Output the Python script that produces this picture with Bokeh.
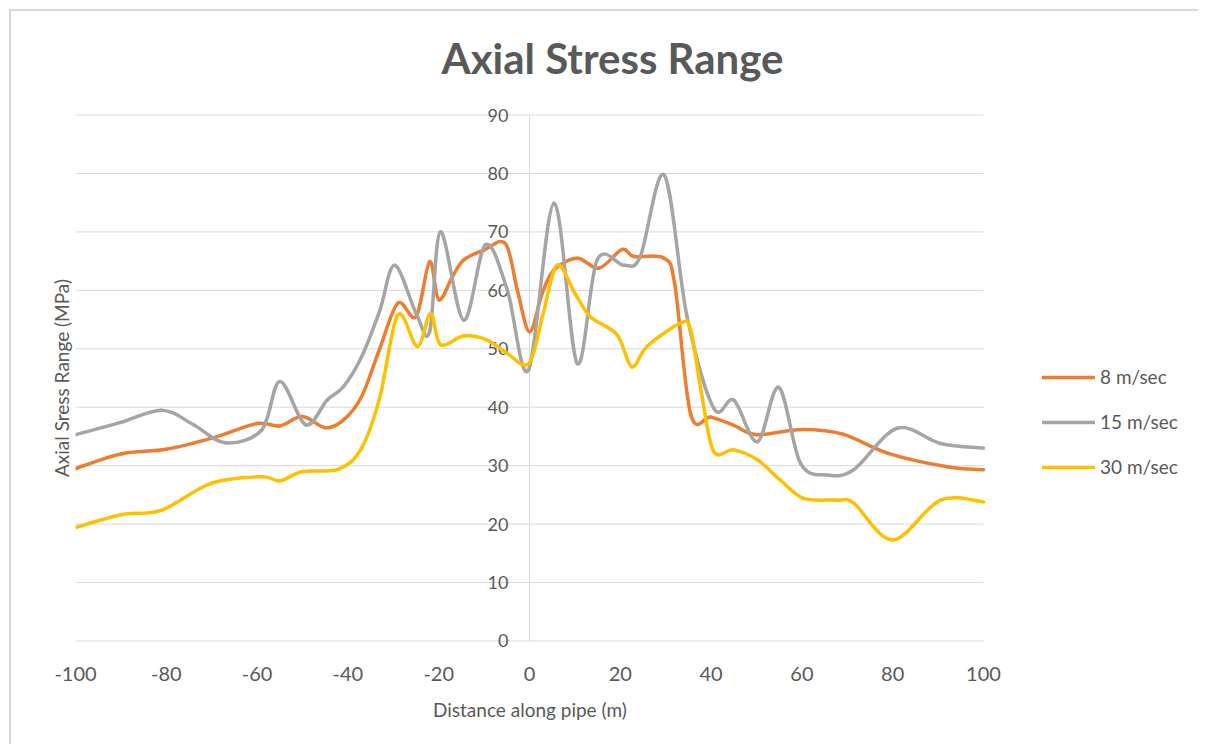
import numpy as np
from bokeh.plotting import figure
from bokeh.models import Range1d, FixedTicker, Legend, LegendItem, Title, ColumnDataSource
from bokeh.core.properties import value
from bokeh.embed import file_html
from bokeh.resources import INLINE

# ---------------- data ----------------
title_text = "Axial Stress Range"
x_label = "Distance  along pipe (m)"
y_label = "Axial Sress Range (MPa)"

x_ticks = [-100, -80, -60, -40, -20, 0, 20, 40, 60, 80, 100]
x_tick_labels = ["-100", "-80", "-60", "-40", "-20", "0", "20", "40", "60", "80", "100"]
y_ticks = [0, 10, 20, 30, 40, 50, 60, 70, 80, 90]
y_tick_labels = ["0", "10", "20", "30", "40", "50", "60", "70", "80", "90"]

series_names = ["8 m/sec", "15 m/sec", "30 m/sec"]

x_8 = [-100, -90, -80, -70, -60, -55, -50, -45, -41, -37, -33, -29, -25, -22, -20, -17,
       -14.5, -10, -5.3, -2.7, 0, 2.8, 5.4, 10.5, 15.3, 20.4, 23, 29.6, 32, 35.5, 40, 45,
       50, 60, 69, 79, 92, 100]
y_8 = [29.5, 32.0, 32.8, 34.7, 37.2, 36.8, 38.4, 36.5, 37.8, 41.8, 50.0, 57.8, 55.5, 64.9, 58.4, 62.3,
       65.2, 66.9, 68.0, 60.1, 52.9, 59.5, 63.5, 65.5, 63.8, 67.0, 65.8, 65.5, 61.0, 38.8, 38.3, 36.9,
       35.3, 36.2, 35.4, 32.1, 29.8, 29.3]

x_15 = [-100, -90, -81, -74, -67, -59, -55, -49.3, -44.6, -41, -37, -33, -29.7, -25, -22, -19.6,
        -14.5, -9.7, -4.9, -0.2, 5.4, 10.5, 14.9, 20.8, 24.4, 29.7, 34.7, 40.6, 45, 50.2,
        54.9, 59.7, 65.6, 71.4, 81, 90.5, 100]
y_15 = [35.3, 37.4, 39.5, 37.0, 33.9, 36.1, 44.4, 37.0, 41.2, 43.5, 48.6, 56.5, 64.3, 56.1, 52.9, 70.0,
        54.9, 67.8, 60.1, 46.4, 74.9, 47.5, 65.2, 64.3, 65.8, 79.7, 55.5, 39.8, 41.2, 34.1,
        43.4, 30.4, 28.4, 29.3, 36.4, 33.8, 33.0]

x_30 = [-100, -90, -81, -70, -59, -55, -50, -42, -37, -33, -29, -24.7, -21.8, -19.6, -14.5, -9.3,
        -4.9, -0.1, 3, 6.1, 10, 13.4, 19.3, 22.5, 25.9, 33.3, 35.5, 38, 40.6, 45, 50.2, 55.3,
        60.4, 67.8, 71.4, 80, 90.5, 100]
y_30 = [19.4, 21.6, 22.4, 27.0, 28.1, 27.4, 29.0, 29.4, 33.0, 41.6, 55.8, 50.4, 56.0, 50.7, 52.2, 51.5,
        49.2, 47.5, 56.0, 64.3, 59.5, 55.5, 52.4, 46.9, 50.4, 54.4, 53.2, 41.8, 32.4, 32.7, 31.0, 27.5,
        24.4, 24.1, 23.6, 17.3, 24.1, 23.8]

colors = ["#ED7D31", "#A5A5A5", "#FFC000"]
FONT = "Lato"
TXT = "#595959"
GRID = "#d9d9d9"


def smooth_segments(xs, ys):
    """Cubic Bezier segments through the data points (Excel-like smoothed line)."""
    xs = np.asarray(xs, float)
    ys = np.asarray(ys, float)
    n = len(xs)
    xp = np.concatenate([[xs[0]], xs, [xs[-1]]])
    yp = np.concatenate([[ys[0]], ys, [ys[-1]]])
    return dict(
        x0=xs[:-1], y0=ys[:-1], x1=xs[1:], y1=ys[1:],
        cx0=xs[:-1] + (xp[2:n + 1] - xp[0:n - 1]) / 6.0,
        cy0=ys[:-1] + (yp[2:n + 1] - yp[0:n - 1]) / 6.0,
        cx1=xs[1:] - (xp[3:n + 2] - xp[1:n]) / 6.0,
        cy1=ys[1:] - (yp[3:n + 2] - yp[1:n]) / 6.0,
    )


# layout: plotting area spans 908 px for the x tick extent; the frame continues to the
# right so that the legend can sit beside the curves
W, H = 1189, 735
B_LEFT, B_RIGHT, B_TOP, B_BOTTOM = 64, 5, 86, 88
AXIS_PX = 908
frame_w = W - B_LEFT - B_RIGHT
x_lo, x_hi = min(x_ticks), max(x_ticks)
x_end = x_lo + (x_hi - x_lo) * frame_w / AXIS_PX

p = figure(width=W, height=H, output_backend="svg", toolbar_location=None,
           x_range=Range1d(x_lo, x_end), y_range=Range1d(-3, 93),
           min_border_left=B_LEFT, min_border_right=B_RIGHT,
           min_border_top=B_TOP, min_border_bottom=B_BOTTOM,
           styles={"margin-left": "9px", "margin-top": "9px",
                   "border-left": "2px solid #d9d9d9", "border-top": "2px solid #d9d9d9"})
p.outline_line_color = None
p.background_fill_color = "white"
p.border_fill_color = "white"

# title (left-aligned with an offset so that it is centred near the middle of the chart)
TITLE_W = 340
p.add_layout(Title(text=title_text, align="left", text_font=FONT, text_font_size="42px",
                   text_font_style="bold", text_color=TXT, standoff=29,
                   offset=AXIS_PX / 2.0 + 82 - TITLE_W / 2.0), "above")

# grid lines (only across the x tick extent)
p.xgrid.visible = False
p.ygrid.visible = False
p.segment(x0=[x_lo] * len(y_ticks), y0=y_ticks, x1=[x_hi] * len(y_ticks), y1=y_ticks,
          line_color=GRID, line_width=1)

# x axis
xa = p.xaxis[0]
xa.ticker = FixedTicker(ticks=x_ticks)
xa.major_label_overrides = {t: l for t, l in zip(x_ticks, x_tick_labels)}
xa.axis_line_color = None
xa.major_tick_line_color = None
xa.minor_tick_line_color = None
xa.major_label_standoff = 2
xa.major_label_text_font = FONT
xa.major_label_text_font_size = "20px"
xa.major_label_text_color = TXT

# x axis title, centred under the tick extent
XLABEL_W = 193
p.add_layout(Title(text=x_label, align="left", text_font=FONT, text_font_size="19px",
                   text_font_style="normal", text_color=TXT, standoff=24,
                   offset=AXIS_PX / 2.0 - XLABEL_W / 2.0), "below")

# y axis (labels drawn at x = 0)
ya = p.yaxis[0]
ya.ticker = FixedTicker(ticks=[])
ya.axis_line_color = None
ya.major_tick_line_color = None
ya.minor_tick_line_color = None
ya.axis_label = y_label
ya.axis_label_text_font = FONT
ya.axis_label_text_font_size = "19px"
ya.axis_label_text_font_style = "normal"
ya.axis_label_text_color = TXT
ya.axis_label_standoff = 3

# vertical axis line at x = 0
p.segment(x0=[0], y0=[min(y_ticks)], x1=[0], y1=[max(y_ticks)], line_color=GRID, line_width=1)

# y tick labels next to the central axis
ysrc = ColumnDataSource(dict(x=[0] * len(y_ticks), y=y_ticks, t=y_tick_labels))
p.text(x="x", y="y", text="t", source=ysrc, text_align="right", text_baseline="middle",
       x_offset=-21, text_font=value(FONT), text_font_size="18px", text_color=TXT)

renderers = []
for xs, ys, c in zip([x_8, x_15, x_30], [y_8, y_15, y_30], colors):
    seg = smooth_segments(xs, ys)
    r = p.bezier(source=ColumnDataSource(seg), x0="x0", y0="y0", x1="x1", y1="y1",
                 cx0="cx0", cy0="cy0", cx1="cx1", cy1="cy1",
                 line_color=c, line_width=3.5, line_cap="round", line_join="round")
    renderers.append(r)

legend = Legend(items=[LegendItem(label=n, renderers=[r]) for n, r in zip(series_names, renderers)],
                location=(967, 180), orientation="vertical",
                border_line_color=None, background_fill_alpha=0,
                padding=0, margin=0, spacing=22,
                glyph_width=53, glyph_height=20, label_height=20, label_standoff=5,
                label_text_font=FONT, label_text_font_size="19px", label_text_color=TXT)
p.add_layout(legend)

open("out.html", "w").write(file_html(p, INLINE))
